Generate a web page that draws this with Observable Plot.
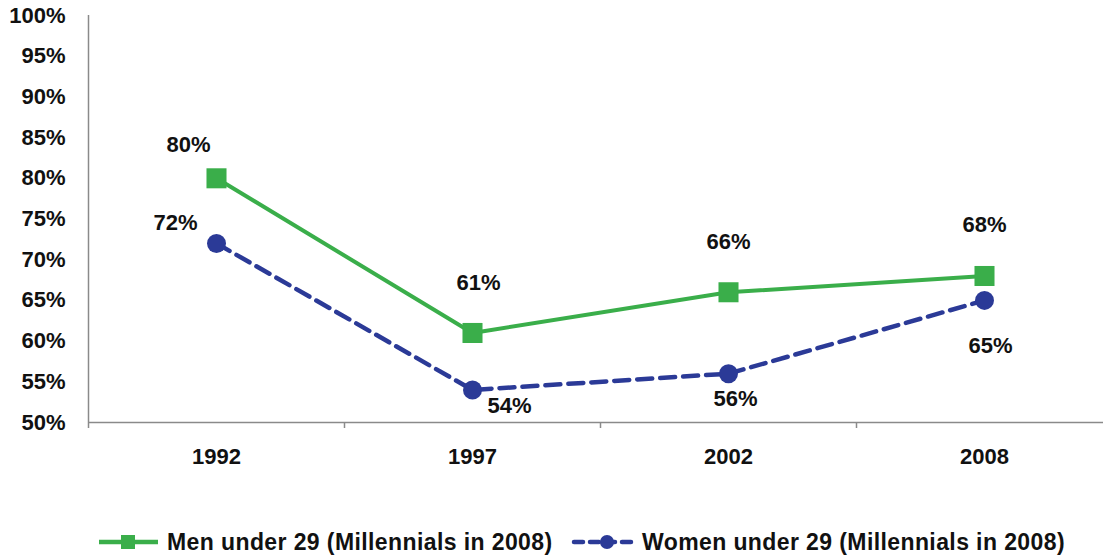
<!DOCTYPE html>
<html><head><meta charset="utf-8">
<script src="https://cdn.jsdelivr.net/npm/d3@7"></script>
<script src="https://cdn.jsdelivr.net/npm/@observablehq/plot@0.6"></script>
<style>
body{margin:0;background:#fff;font-family:"Liberation Sans",Arial,sans-serif;}
#chart svg{overflow:visible;}
#legend{position:absolute;left:0;top:527px;width:1103px;height:30px;font:bold 23px "Liberation Sans",Arial,sans-serif;letter-spacing:0.4px;color:#111;}
.item{position:absolute;top:0;height:30px;display:flex;align-items:center;white-space:nowrap;}
.item svg{margin-right:6px;}
</style></head><body>
<div id="chart"></div>
<div id="legend"></div>
<script>
const years = ["1992", "1997", "2002", "2008"];
const men = [80, 61, 66, 68];
const women = [72, 54, 56, 65];
const seriesNames = ["Men under 29 (Millennials in 2008)", "Women under 29 (Millennials in 2008)"];
const yTicks = [50, 55, 60, 65, 70, 75, 80, 85, 90, 95, 100];

const green = "#3aae4a", blue = "#2b3a97", axisGray = "#8a8a8a";
const menData = years.map((y, i) => ({year: y, value: men[i]}));
const womenData = years.map((y, i) => ({year: y, value: women[i]}));

// label placement (pixel offsets, styling only)
const menOff = [[-28, -33], [6, -50], [0, -50], [0, -51]];
const womenOff = [[-41, -20], [37, 16], [7, 25], [6, 46]];
const labelStyle = {fontSize: 22, fontWeight: "bold", fill: "#111"};

const labels = [];
menData.forEach((d, i) => labels.push(Plot.text([d], {x: "year", y: "value", text: d => d.value + "%", dx: menOff[i][0], dy: menOff[i][1], ...labelStyle})));
womenData.forEach((d, i) => labels.push(Plot.text([d], {x: "year", y: "value", text: d => d.value + "%", dx: womenOff[i][0], dy: womenOff[i][1], ...labelStyle})));

const chart = Plot.plot({
  width: 1103, height: 500,
  marginLeft: 88, marginRight: 0, marginTop: 15, marginBottom: 78,
  style: {fontFamily: '"Liberation Sans", Arial, sans-serif', fontWeight: "bold", fontSize: "22px", color: "#111", background: "#fff"},
  x: {type: "point", domain: years, range: [88, 1112], padding: 0.5, label: null},
  y: {domain: [50, 100], label: null},
  marks: [
    // left axis line
    Plot.ruleX([years[0]], {x: d => d, y1: 50, y2: 100, dx: -128, stroke: axisGray, strokeWidth: 1.5}),
    // bottom axis line
    Plot.ruleY([50], {stroke: axisGray, strokeWidth: 1.5}),
    // y ticks
    Plot.ruleY(yTicks, {y: d => d, x1: years[0], x2: years[0], insetLeft: -6, dx: -128, stroke: axisGray, strokeWidth: 1.5}),
    // x ticks at category boundaries
    Plot.ruleX(years, {x: d => d, y1: 50, y2: 50, insetBottom: -6, dx: -128, stroke: axisGray, strokeWidth: 1.5}),
    Plot.axisY(yTicks, {tickSize: 0, tickPadding: 23, tickFormat: d => d + "%", fontSize: 22, fontWeight: "bold"}),
    Plot.axisX({tickSize: 0, tickPadding: 26, fontSize: 22, fontWeight: "bold"}),
    Plot.line(menData, {x: "year", y: "value", stroke: green, strokeWidth: 4}),
    Plot.line(womenData, {x: "year", y: "value", stroke: blue, strokeWidth: 4.5, strokeDasharray: "15,8"}),
    Plot.dot(menData, {x: "year", y: "value", symbol: "square", r: 11.3, fill: green, stroke: null}),
    Plot.dot(womenData, {x: "year", y: "value", symbol: "circle", r: 9.5, fill: blue, stroke: null}),
    ...labels
  ]
});
document.getElementById("chart").appendChild(chart);

const leg = document.getElementById("legend");
const items = [
  {name: seriesNames[0], color: green, dash: null, sym: "square", left: 96},
  {name: seriesNames[1], color: blue, dash: "9,7", sym: "circle", left: 571}
];
items.forEach(it => {
  const div = document.createElement("div");
  div.className = "item";
  div.style.left = it.left + "px";
  const marker = it.sym === "square"
    ? `<rect x="25" y="8" width="14" height="14" fill="${it.color}"/>`
    : `<circle cx="36" cy="15" r="7" fill="${it.color}"/>`;
  div.innerHTML = `<svg width="65" height="30"><line x1="3" x2="62" y1="15" y2="15" stroke="${it.color}" stroke-width="4.5" ${it.dash ? `stroke-dasharray="${it.dash}" stroke-linecap="round"` : ""}/>${marker}</svg><span>${it.name}</span>`;
  leg.appendChild(div);
});
</script>
</body></html>
